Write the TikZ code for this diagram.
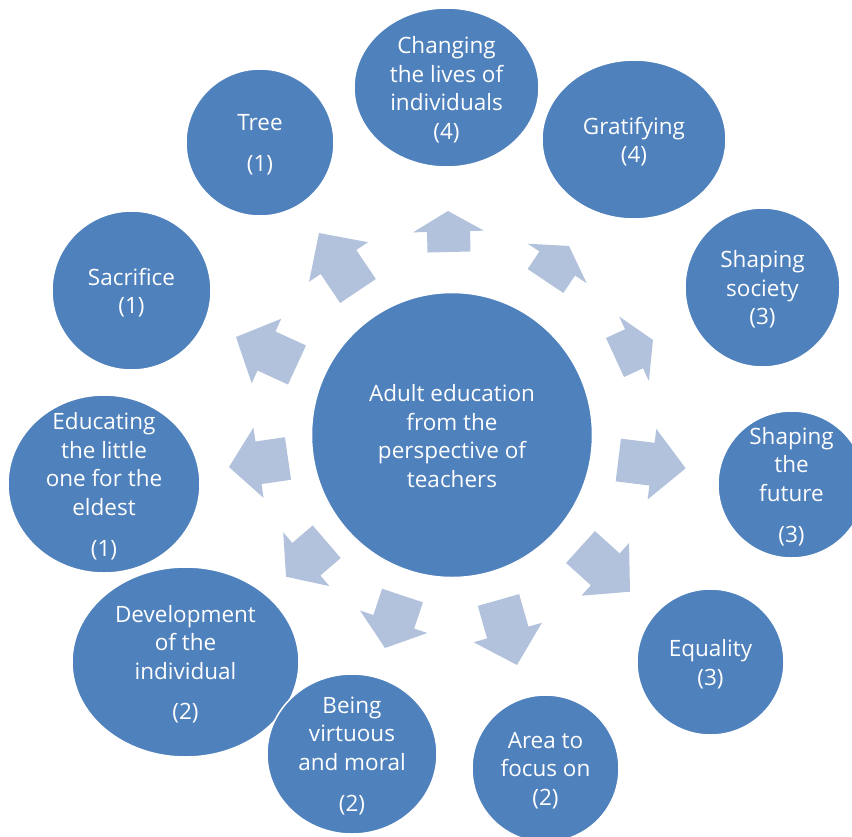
\documentclass[tikz,border=0pt]{standalone}
\usepackage{fontspec}
\setmainfont{Open Sans}
\usetikzlibrary{shapes.geometric,calc}
\definecolor{cblue}{HTML}{4F81BD}
\definecolor{ablue}{HTML}{B2C1DC}
\tikzset{
  bub/.style={ellipse, fill=cblue, draw=white, line width=1.5pt, inner sep=0pt},
  txt/.style={text=white, align=center, inner sep=0pt, yshift=-2pt, font=\fontsize{22.5}{28.5}\selectfont},
  arr/.style={fill=ablue}
}
\newcommand\myarrow[3]{%
  \coordinate (#1b) at #2;
  \coordinate (#1t) at #3;
  \coordinate (#1m) at ($(#1b)!0.5!(#1t)$);
  \fill[arr] ($(#1b)!21.5pt!90:(#1t)$) -- ($(#1m)!21.5pt!90:(#1t)$) -- ($(#1m)!35.5pt!90:(#1t)$) -- (#1t)
    -- ($(#1m)!35.5pt!-90:(#1t)$) -- ($(#1m)!21.5pt!-90:(#1t)$) -- ($(#1b)!21.5pt!-90:(#1t)$) -- cycle;}
\begin{document}
\begin{tikzpicture}[x=1pt,y=-1pt]
\useasboundingbox (0,0) rectangle (852,836);
\clip (0,0) rectangle (852,836);
% arrows
\myarrow{a1}{(449,252)}{(448,211)}
\myarrow{a2}{(545.5,281)}{(569,246)}
\myarrow{a3}{(615,357.5)}{(653,340)}
\myarrow{a4}{(618.3,460)}{(685.7,468.3)}
\myarrow{a5}{(580.5,547)}{(630,591.7)}
\myarrow{a6}{(498.5,600)}{(517,665)}
\myarrow{a7}{(402.5,595.5)}{(385,648)}
\myarrow{a8}{(326.7,541.7)}{(286,576.7)}
\myarrow{a9}{(288,458.5)}{(229,467)}
\myarrow{a10}{(297,365)}{(236,337)}
\myarrow{a11}{(358,291)}{(319,233)}
% circles
\node[bub, minimum width=281pt, minimum height=285pt] (center) at (452,435) {};
\node[txt, yshift=1pt] (centert) at (center) {Adult education\\from the\\perspective of\\teachers};
\node[bub, minimum width=185pt, minimum height=159pt] (chg) at (446.5,87.5) {};
\node[txt] (chgt) at (chg) {Changing\\the lives of\\individuals\\(4)};
\node[bub, minimum width=184pt, minimum height=159pt] (grat) at (634,139.5) {};
\node[txt] (gratt) at (grat) {Gratifying\\(4)};
\node[bub, minimum width=155pt, minimum height=159pt] (ssoc) at (762.5,287.5) {};
\node[txt] (ssoct) at (ssoc) {Shaping\\society\\(3)};
\node[bub, minimum width=147pt, minimum height=147pt] (sfut) at (791.5,484.5) {};
\node[txt] (sfutt) at (sfut) {Shaping\\the\\future\\[12.5pt](3)};
\node[bub, minimum width=147pt, minimum height=146pt] (equal) at (710.5,662) {};
\node[txt] (equalt) at (equal) {Equality\\(3)};
\node[bub, minimum width=147pt, minimum height=147pt] (area) at (545.5,768.5) {};
\node[txt] (areat) at (area) {Area to\\focus on\\(2)};
\node[bub, minimum width=227pt, minimum height=190pt] (devel) at (185.5,662) {};
\node[txt] (develt) at (devel) {Development\\of the\\individual\\[12pt](2)};
\node[bub, minimum width=170pt, minimum height=160pt] (being) at (352,754) {};
\node[txt] (beingt) at (being) {Being\\virtuous\\and moral\\[13pt](2)};
\node[bub, minimum width=192pt, minimum height=178pt] (educ) at (104,484) {};
\node[txt] (educt) at (educ) {Educating\\the little\\one for the\\eldest\\[12.5pt](1)};
\node[bub, minimum width=159pt, minimum height=159pt] (sacr) at (131.5,290.5) {};
\node[txt] (sacrt) at (sacr) {Sacrifice\\(1)};
\node[bub, minimum width=148pt, minimum height=147pt] (tree) at (260,142.5) {};
\node[txt] (treet) at (tree) {Tree\\[12.5pt](1)};
\end{tikzpicture}
\end{document}
